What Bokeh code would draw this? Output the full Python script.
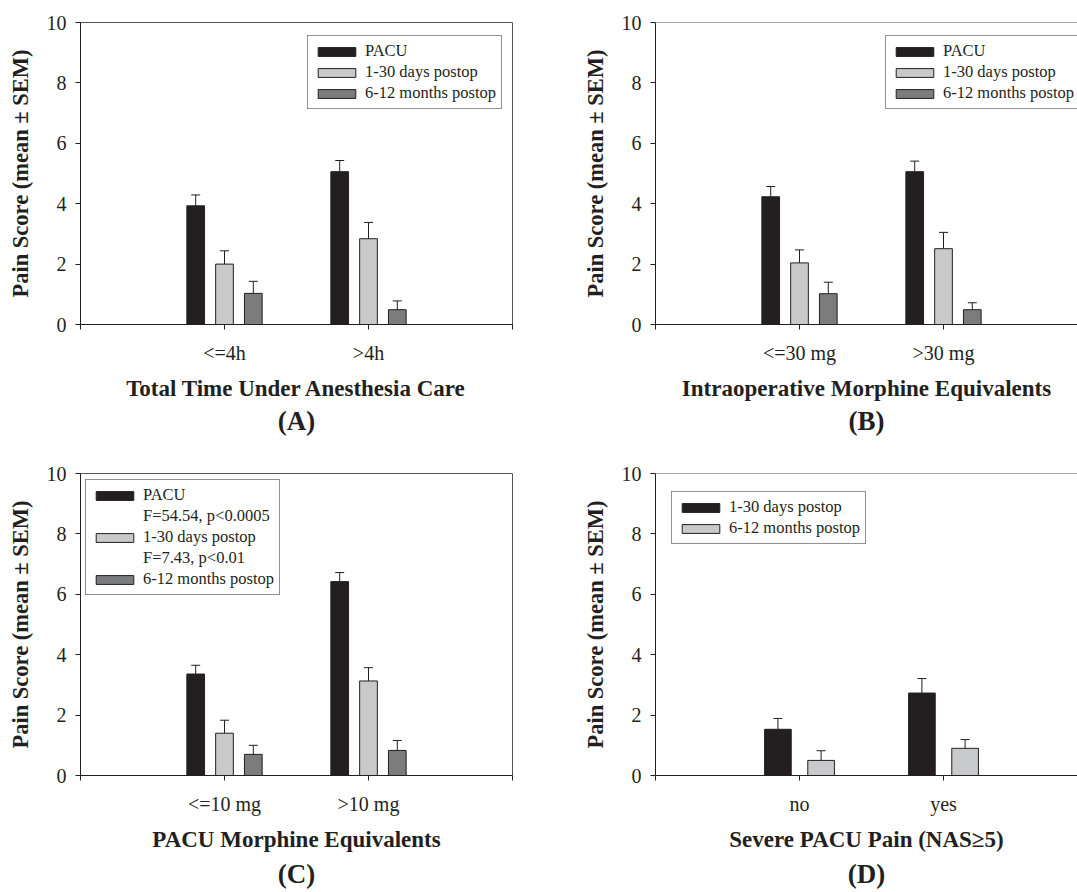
from bokeh.plotting import figure
from bokeh.models import (ColumnDataSource, Whisker, TeeHead, Legend, LegendItem,
                          FixedTicker, Title, Span, Range1d)
from bokeh.layouts import column, row
from bokeh.embed import file_html
from bokeh.resources import INLINE

FONT = "Liberation Serif"
INK = "#231f20"
BLACK = "#231f20"
LIGHT = "#c8c9ca"
DARK = "#7b7c7e"

Y_LABEL = "Pain Score (mean \u00b1 SEM)"

# ---- Panel A ----
A_categories = ["<=4h", ">4h"]
A_pacu = [3.93, 5.06]
A_pacu_sem = [0.36, 0.37]
A_d30 = [2.00, 2.84]
A_d30_sem = [0.44, 0.54]
A_m12 = [1.03, 0.49]
A_m12_sem = [0.40, 0.29]

# ---- Panel B ----
B_categories = ["<=30 mg", ">30 mg"]
B_pacu = [4.23, 5.06]
B_pacu_sem = [0.34, 0.35]
B_d30 = [2.04, 2.51]
B_d30_sem = [0.43, 0.54]
B_m12 = [1.02, 0.49]
B_m12_sem = [0.38, 0.23]

# ---- Panel C ----
C_categories = ["<=10 mg", ">10 mg"]
C_pacu = [3.36, 6.42]
C_pacu_sem = [0.29, 0.30]
C_d30 = [1.40, 3.13]
C_d30_sem = [0.43, 0.44]
C_m12 = [0.70, 0.83]
C_m12_sem = [0.30, 0.33]
C_stats = ["F=54.54, p<0.0005", "F=7.43, p<0.01", None]

# ---- Panel D ----
D_categories = ["no", "yes"]
D_d30 = [1.53, 2.73]
D_d30_sem = [0.36, 0.48]
D_m12 = [0.50, 0.90]
D_m12_sem = [0.32, 0.29]

three_series = ["PACU", "1-30 days postop", "6-12 months postop"]
two_series = ["1-30 days postop", "6-12 months postop"]

PX_PER_UNIT = 144.0
FRAME_H = 302


def make_panel(cats, names, vals, sems, colors, offsets, bar_w, xlabel, letter,
               left_panel, bottom_border, letter_standoff, legend_loc, stats=None):
    if left_panel:
        fw = 432
        mbl, mbr = 80, 28
    else:
        fw = 422
        mbl, mbr = 115, 0
    xend = fw / PX_PER_UNIT
    p = figure(frame_width=fw, frame_height=FRAME_H,
               x_range=Range1d(0, xend), y_range=Range1d(0, 10),
               min_border_left=mbl, min_border_right=mbr,
               min_border_top=22, min_border_bottom=bottom_border,
               output_backend="svg", toolbar_location=None, tools="",
               background_fill_color="white", border_fill_color="white")
    p.xgrid.visible = False
    p.ygrid.visible = False
    if left_panel:
        p.outline_line_color = "#555555"
        p.outline_line_width = 1
    else:
        p.outline_line_color = None
        p.add_layout(Span(location=10, dimension="width", line_color="#555555", line_width=1))

    ticks = list(range(len(cats) + 2))
    overrides = {t: "" for t in ticks}
    for k, c in enumerate(cats):
        overrides[k + 1] = c
    p.xaxis.ticker = FixedTicker(ticks=ticks)
    p.xaxis.major_label_overrides = overrides
    p.yaxis.ticker = FixedTicker(ticks=[0, 2, 4, 6, 8, 10])

    for ax in (p.xaxis, p.yaxis):
        ax.axis_line_color = INK
        ax.axis_line_width = 1
        ax.major_tick_line_color = INK
        ax.major_tick_in = 0
        ax.major_tick_out = 5
        ax.minor_tick_line_color = None
        ax.major_label_text_font = FONT
        ax.major_label_text_font_size = "20px"
        ax.major_label_text_color = INK
        ax.axis_label_text_font = FONT
        ax.axis_label_text_font_style = "bold"
        ax.axis_label_text_color = INK
    p.xaxis.major_label_standoff = 12
    p.xaxis.axis_label_standoff = 9
    p.xaxis.axis_label = xlabel
    p.xaxis.axis_label_text_font_size = "23px"
    p.yaxis.major_label_standoff = 9
    p.yaxis.axis_label_standoff = 11
    p.yaxis.axis_label = Y_LABEL
    p.yaxis.axis_label_text_font_size = "22.5px"

    p.add_layout(Title(text=letter, align="center", text_font=FONT,
                       text_font_size="27px", text_font_style="bold",
                       text_color=INK, standoff=letter_standoff), "below")

    renderers = []
    for i in range(len(names)):
        xs = [k + 1 + offsets[i] for k in range(len(cats))]
        ups = [v + s for v, s in zip(vals[i], sems[i])]
        src = ColumnDataSource(dict(x=xs, top=vals[i], upper=ups))
        p.add_layout(Whisker(source=src, base="x", lower="top", upper="upper",
                             dimension="height", line_color=INK, line_width=1,
                             upper_head=TeeHead(size=9, line_color=INK, line_width=1),
                             lower_head=None))
        r = p.vbar(x="x", top="top", bottom=0, width=bar_w, source=src,
                   fill_color=colors[i], line_color=INK, line_width=1)
        renderers.append(r)

    items = []
    for i, name in enumerate(names):
        items.append(LegendItem(label=name, renderers=[renderers[i]]))
        if stats is not None and stats[i]:
            dummy = p.vbar(x=[], top=[], width=0.1, fill_alpha=0, line_alpha=0)
            items.append(LegendItem(label=stats[i], renderers=[dummy]))
    legend = Legend(items=items, location=legend_loc,
                    label_text_font=FONT, label_text_font_size="16.5px",
                    label_text_color=INK,
                    glyph_width=47, glyph_height=11, label_height=19,
                    label_standoff=5, padding=5, spacing=1, margin=0,
                    border_line_color=INK, border_line_width=1,
                    background_fill_color="white", background_fill_alpha=1)
    p.add_layout(legend)
    return p


off3 = [-0.2, 0.0, 0.2]
off2 = [-0.15, 0.15]

pA = make_panel(A_categories, three_series,
                [A_pacu, A_d30, A_m12], [A_pacu_sem, A_d30_sem, A_m12_sem],
                [BLACK, LIGHT, DARK], off3, 0.123,
                "Total Time Under Anesthesia Care", "(A)", True, 127, 0, (227, 215))
pB = make_panel(B_categories, three_series,
                [B_pacu, B_d30, B_m12], [B_pacu_sem, B_d30_sem, B_m12_sem],
                [BLACK, LIGHT, DARK], off3, 0.123,
                "Intraoperative Morphine Equivalents", "(B)", False, 127, 0, (230, 215))
pC = make_panel(C_categories, three_series,
                [C_pacu, C_d30, C_m12], [C_pacu_sem, C_d30_sem, C_m12_sem],
                [BLACK, LIGHT, DARK], off3, 0.123,
                "PACU Morphine Equivalents", "(C)", True, 117, 5, (5, 180), stats=C_stats)
pD = make_panel(D_categories, two_series,
                [D_d30, D_m12], [D_d30_sem, D_m12_sem],
                [BLACK, LIGHT], off2, 0.185,
                "Severe PACU Pain (NAS\u22655)", "(D)", False, 117, 5, (16, 231))

layout = column(row(pA, pB), row(pC, pD))
open("out.html", "w").write(file_html(layout, INLINE))
